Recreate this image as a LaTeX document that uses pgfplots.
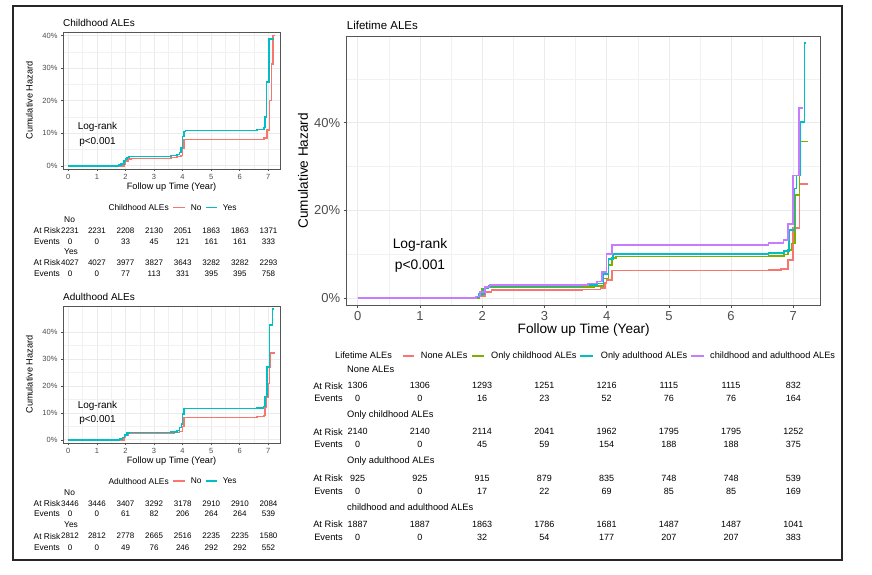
\documentclass[border=0pt]{standalone}
\usepackage{pgfplots}
\pgfplotsset{compat=1.18}
\usepackage{fontspec}
\setmainfont{Liberation Sans}
\definecolor{cRed}{HTML}{F8766D}
\definecolor{cGreen}{HTML}{7CAE00}
\definecolor{cTeal}{HTML}{00BFC4}
\definecolor{cPurple}{HTML}{C77CFF}
\definecolor{gridc}{HTML}{EBEBEB}
\definecolor{framec}{HTML}{555555}
\definecolor{tickc}{HTML}{4D4D4D}
\newcommand{\fs}[1]{\fontsize{#1}{#1}\selectfont}
\newcommand{\riskrow}[5]{\foreach \v [count=\i from 0] in {#5} {\node[font=\fs{#4}, inner sep=0pt] at ({#1+#2*\i},#3) {\v};}}
% first column slightly right as in the reference
\newcommand{\smallrow}[2]{\node[font=\fs{8}, inner sep=0pt] at (70,#1) {\getfirst#2\relax};\foreach \v [count=\i from 0] in {#2} {\ifnum\i>0 \node[font=\fs{8}, inner sep=0pt] at ({68.3+28.6*\i},#1) {\v};\fi}}
\def\getfirst#1,#2\relax{#1}

\pgfplotsset{
  km/.style={
    scale only axis,
    anchor=south west,
    axis line style={draw=framec, line width=0.6pt},
    grid=both,
    major grid style={draw=gridc, line width=0.6pt},
    minor grid style={draw=gridc!70, line width=0.35pt},
    major tick style={draw=tickc, line width=0.5pt},
    minor tick length=0pt,
    tick align=outside,
    tick pos=left,
    /pgf/number format/assume math mode=true,
    yticklabel={\pgfmathprintnumber{\tick}\%},
    ticklabel style={text=tickc},
    xtick={0,1,2,3,4,5,6,7},
    minor x tick num=1,
    every axis plot/.append style={const plot, no marks, line width=1.5pt},
  },
}

\begin{document}
\begin{tikzpicture}
\path[fill=white] (0pt,0pt) rectangle (872pt,-574pt);

% ---------------- Childhood ----------------
\begin{axis}[km, at={(63pt,-169pt)}, width=217pt, height=137pt,
  xmin=-0.185, xmax=7.41, ymin=-1.0, ymax=41.1,
  ytick={0,10,20,30,40}, minor y tick num=1,
  major tick length=2pt, ticklabel style={font=\fs{7.5}}]
\addplot[cRed] coordinates {(0,0) (1.9,0) (1.95,0.5) (2.0,1.5) (2.1,2.0) (2.2,2.3) (3.6,2.5) (3.8,2.8) (3.95,3.2) (4.0,5.5) (4.05,8.0) (6.6,8.1) (6.85,8.5) (6.95,11) (7.05,20) (7.11,31.3) (7.17,40) (7.23,40)};
\addplot[cTeal] coordinates {(0,0) (1.75,0.2) (1.85,0.5) (1.95,1.5) (2.0,2.0) (2.05,2.6) (2.12,2.9) (3.6,3.1) (3.8,3.5) (3.9,4.0) (3.95,5.5) (4.0,9.0) (4.05,10.5) (4.1,10.8) (6.6,11.2) (6.85,11.8) (6.88,15) (6.94,25.8) (7.03,39) (7.2,39)};
\end{axis}

% ---------------- Adulthood ----------------
\begin{axis}[km, at={(63pt,-443pt)}, width=217pt, height=137pt,
  xmin=-0.185, xmax=7.41, ymin=-1.2, ymax=49.7,
  ytick={0,10,20,30,40}, minor y tick num=1,
  major tick length=2pt, ticklabel style={font=\fs{7.5}}]
\addplot[cRed] coordinates {(0,0) (1.9,0) (1.95,0.8) (2.0,1.8) (2.1,2.4) (2.2,2.6) (3.7,2.7) (3.9,3.0) (4.0,5.0) (4.05,8.3) (6.6,8.6) (6.85,9.0) (6.88,12) (6.94,15.7) (7.0,21) (7.05,26.9) (7.08,32.3) (7.23,32.3)};
\addplot[cTeal] coordinates {(0,0) (1.8,0.3) (1.9,0.8) (1.97,1.8) (2.05,2.5) (2.12,2.7) (3.6,2.9) (3.8,3.5) (3.9,4.5) (3.97,5.8) (4.0,9.5) (4.05,11.7) (6.6,11.9) (6.83,12.4) (6.88,16) (6.96,27.1) (7.05,42.6) (7.15,48.5) (7.16,48.5)};
\end{axis}

% ---------------- Lifetime ----------------
\begin{axis}[km, at={(346.7pt,-305pt)}, width=474pt, height=268.3pt,
  xmin=-0.177, xmax=7.44, ymin=-1.53, ymax=59.6,
  ytick={0,20,40}, minor ytick={10,30,50},
  major tick length=3pt, ticklabel style={font=\fs{13}},
  every axis plot/.append style={line width=1.7pt}]
\addplot[cRed] coordinates {(0,0) (1.9,0) (1.95,0.5) (2.05,1.5) (2.15,1.9) (3.6,2.0) (3.9,2.3) (3.97,3.5) (4.0,4.2) (4.09,6.3) (6.6,6.4) (6.8,6.7) (6.92,8.7) (7.0,16) (7.1,26) (7.24,26)};
\addplot[cGreen] coordinates {(0,0) (1.85,0) (1.95,0.8) (2.0,2.2) (2.1,2.5) (3.6,2.6) (3.8,2.8) (3.95,4.5) (4.03,7.6) (4.09,9.2) (4.15,9.5) (6.6,9.7) (6.85,10.0) (6.92,11.0) (6.97,12.5) (7.03,23.5) (7.1,35.7) (7.24,35.7)};
\addplot[cTeal] coordinates {(0,0) (1.5,0.2) (1.95,1.0) (2.03,2.2) (2.1,2.8) (3.6,3.0) (3.85,3.4) (3.95,5.5) (4.03,9.0) (4.1,10.1) (6.6,10.3) (6.85,10.8) (6.93,15.5) (7.02,25) (7.05,28) (7.11,40.2) (7.18,58.2) (7.185,58.2)};
\addplot[cPurple] coordinates {(0,0) (1.5,0.1) (1.9,0.4) (1.97,1.5) (2.05,2.5) (2.12,3.0) (3.5,3.1) (3.7,3.4) (3.85,3.8) (3.92,6.0) (4.0,10.1) (4.09,12.1) (6.6,12.6) (6.84,13.3) (6.92,17.0) (7.0,28) (7.09,43.3) (7.16,43.3)};
\end{axis}

\begin{scope}[x=1pt, y=-1pt]
% outer frame
\draw[line width=1.4pt, black!85] (13,6) rectangle (842,560);

% ---- Childhood texts ----
\node[anchor=west, font=\fs{10}, inner sep=0pt] at (63,23) {Childhood ALEs};
\node[rotate=90, font=\fs{9.2}, inner sep=0pt] at (29.3,100.5) {Cumulative Hazard};
\node[font=\fs{9.2}, inner sep=0pt] at (171.5,187) {Follow up Time (Year)};
\node[font=\fs{10}, inner sep=0pt] at (97.5,126.7) {Log-rank};
\node[font=\fs{10}, inner sep=0pt] at (97.5,141.7) {p<0.001};
\node[anchor=west, font=\fs{8.4}, inner sep=0pt] at (108.3,207.3) {Childhood ALEs};
\draw[cRed, line width=1.6pt] (173.3,207.3) -- (185,207.3);
\node[anchor=west, font=\fs{8.4}, inner sep=0pt] at (190.7,207.3) {No};
\draw[cTeal, line width=1.6pt] (206,207.3) -- (217.3,207.3);
\node[anchor=west, font=\fs{8.4}, inner sep=0pt] at (222.7,207.3) {Yes};
\node[anchor=west, font=\fs{8.4}, inner sep=0pt] at (64,219.3) {No};
\node[anchor=east, font=\fs{8.4}, inner sep=0pt] at (60.5,230.7) {At Risk};
\node[anchor=east, font=\fs{8.4}, inner sep=0pt] at (60,241.7) {Events};
\smallrow{230.7}{2231,2231,2208,2130,2051,1863,1863,1371}
\smallrow{241.7}{0,0,33,45,121,161,161,333}
\node[anchor=west, font=\fs{8.4}, inner sep=0pt] at (64,251.7) {Yes};
\node[anchor=east, font=\fs{8.4}, inner sep=0pt] at (60.5,262.3) {At Risk};
\node[anchor=east, font=\fs{8.4}, inner sep=0pt] at (60,274) {Events};
\smallrow{262.3}{4027,4027,3977,3827,3643,3282,3282,2293}
\smallrow{274}{0,0,77,113,331,395,395,758}

% ---- Adulthood texts ----
\node[anchor=west, font=\fs{10}, inner sep=0pt] at (63,297) {Adulthood ALEs};
\node[rotate=90, font=\fs{9.2}, inner sep=0pt] at (29.3,374.5) {Cumulative Hazard};
\node[font=\fs{9.2}, inner sep=0pt] at (171.5,461) {Follow up Time (Year)};
\node[font=\fs{10}, inner sep=0pt] at (97.5,406) {Log-rank};
\node[font=\fs{10}, inner sep=0pt] at (97.5,420.5) {p<0.001};
\node[anchor=west, font=\fs{8.4}, inner sep=0pt] at (108.3,481) {Adulthood ALEs};
\draw[cRed, line width=1.6pt] (173.3,481) -- (185,481);
\node[anchor=west, font=\fs{8.4}, inner sep=0pt] at (190.7,481) {No};
\draw[cTeal, line width=1.6pt] (206,481) -- (217.3,481);
\node[anchor=west, font=\fs{8.4}, inner sep=0pt] at (222.7,481) {Yes};
\node[anchor=west, font=\fs{8.4}, inner sep=0pt] at (64,492.3) {No};
\node[anchor=east, font=\fs{8.4}, inner sep=0pt] at (60.5,503.3) {At Risk};
\node[anchor=east, font=\fs{8.4}, inner sep=0pt] at (60,513.3) {Events};
\smallrow{503.3}{3446,3446,3407,3292,3178,2910,2910,2084}
\smallrow{513.3}{0,0,61,82,206,264,264,539}
\node[anchor=west, font=\fs{8.4}, inner sep=0pt] at (64,525) {Yes};
\node[anchor=east, font=\fs{8.4}, inner sep=0pt] at (60.5,536) {At Risk};
\node[anchor=east, font=\fs{8.4}, inner sep=0pt] at (60,547.3) {Events};
\smallrow{536}{2812,2812,2778,2665,2516,2235,2235,1580}
\smallrow{547.3}{0,0,49,76,246,292,292,552}

% ---- Lifetime texts ----
\node[anchor=west, font=\fs{11.5}, inner sep=0pt] at (346.7,25) {Lifetime ALEs};
\node[rotate=90, font=\fs{13.6}, inner sep=0pt] at (303,170.8) {Cumulative Hazard};
\node[font=\fs{13.6}, inner sep=0pt] at (583.7,330) {Follow up Time (Year)};
\node[font=\fs{13.8}, inner sep=0pt] at (420,245) {Log-rank};
\node[font=\fs{13.8}, inner sep=0pt] at (420,266) {p<0.001};
% legend
\node[anchor=west, font=\fs{9.2}, inner sep=0pt] at (335,355.7) {Lifetime ALEs};
\draw[cRed, line width=1.6pt] (403,355.7) -- (414.3,355.7);
\node[anchor=west, font=\fs{9.2}, inner sep=0pt] at (420.7,355.7) {None ALEs};
\draw[cGreen, line width=1.6pt] (471.7,355.7) -- (484,355.7);
\node[anchor=west, font=\fs{9.2}, inner sep=0pt] at (491,355.7) {Only childhood ALEs};
\draw[cTeal, line width=1.6pt] (580,355.7) -- (593,355.7);
\node[anchor=west, font=\fs{9.2}, inner sep=0pt] at (600.7,355.7) {Only adulthood ALEs};
\draw[cPurple, line width=1.6pt] (691,355.7) -- (704,355.7);
\node[anchor=west, font=\fs{9.2}, inner sep=0pt] at (710,355.7) {childhood and adulthood ALEs};
% risk table
\node[anchor=west, font=\fs{9.3}, inner sep=0pt] at (347,369) {None ALEs};
\node[font=\fs{9.3}, inner sep=0pt] at (328,385.7) {At Risk};
\node[font=\fs{9.3}, inner sep=0pt] at (328.5,398) {Events};
\riskrow{357.7}{62.23}{385.7}{9}{1306,1306,1293,1251,1216,1115,1115,832}
\riskrow{357.7}{62.23}{398}{9}{0,0,16,23,52,76,76,164}
\node[anchor=west, font=\fs{9.3}, inner sep=0pt] at (347,415) {Only childhood ALEs};
\node[font=\fs{9.3}, inner sep=0pt] at (328,431.7) {At Risk};
\node[font=\fs{9.3}, inner sep=0pt] at (328.5,444) {Events};
\riskrow{357.7}{62.23}{431.7}{9}{2140,2140,2114,2041,1962,1795,1795,1252}
\riskrow{357.7}{62.23}{444}{9}{0,0,45,59,154,188,188,375}
\node[anchor=west, font=\fs{9.3}, inner sep=0pt] at (347,461) {Only adulthood ALEs};
\node[font=\fs{9.3}, inner sep=0pt] at (328,478) {At Risk};
\node[font=\fs{9.3}, inner sep=0pt] at (328.5,491) {Events};
\riskrow{357.7}{62.23}{478}{9}{925,925,915,879,835,748,748,539}
\riskrow{357.7}{62.23}{491}{9}{0,0,17,22,69,85,85,169}
\node[anchor=west, font=\fs{9.3}, inner sep=0pt] at (347,507) {childhood and adulthood ALEs};
\node[font=\fs{9.3}, inner sep=0pt] at (328,524) {At Risk};
\node[font=\fs{9.3}, inner sep=0pt] at (328.5,537) {Events};
\riskrow{357.7}{62.23}{524}{9}{1887,1887,1863,1786,1681,1487,1487,1041}
\riskrow{357.7}{62.23}{537}{9}{0,0,32,54,177,207,207,383}
\end{scope}
\end{tikzpicture}
\end{document}
